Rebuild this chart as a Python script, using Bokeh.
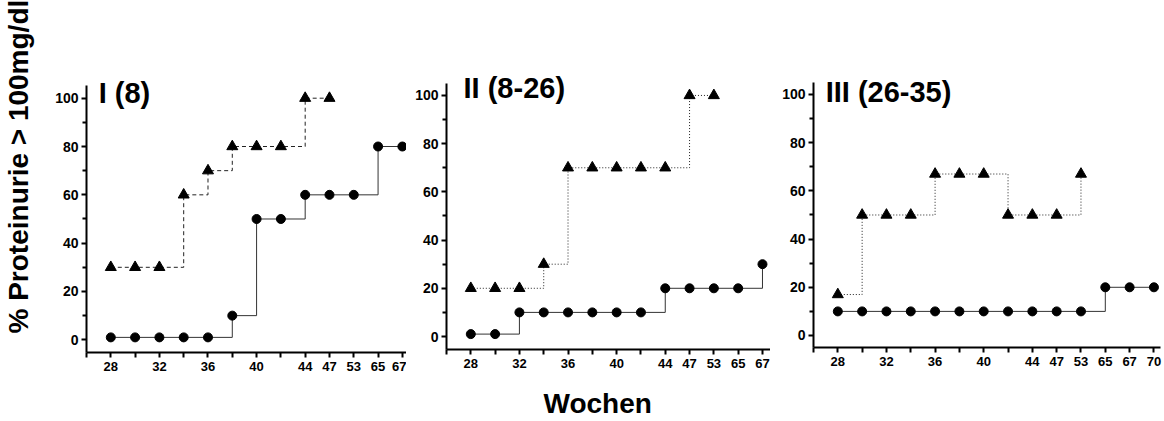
import math

from bokeh.plotting import figure
from bokeh.layouts import row, column
from bokeh.models import Range1d, FixedTicker, Label
from bokeh.embed import file_html
from bokeh.resources import INLINE

FONT = "Liberation Sans"

# Week positions on the (evenly spaced) x axis and the ones that carry a label
weeks = [28, 30, 32, 34, 36, 38, 40, 42, 44, 47, 53, 65, 67, 70]
labelled_weeks = [28, 32, 36, 40, 44, 47, 53, 65, 67, 70]

# Group I (8)
g1_tri_weeks = [28, 30, 32, 34, 36, 38, 40, 42, 44, 47]
g1_tri = [30, 30, 30, 60, 70, 80, 80, 80, 100, 100]
g1_dot_weeks = [28, 30, 32, 34, 36, 38, 40, 42, 44, 47, 53, 65, 67]
g1_dot = [1, 1, 1, 1, 1, 10, 50, 50, 60, 60, 60, 80, 80]

# Group II (8-26)
g2_tri_weeks = [28, 30, 32, 34, 36, 38, 40, 42, 44, 47, 53]
g2_tri = [20, 20, 20, 30, 70, 70, 70, 70, 70, 100, 100]
g2_dot_weeks = [28, 30, 32, 34, 36, 38, 40, 42, 44, 47, 53, 65, 67]
g2_dot = [1, 1, 10, 10, 10, 10, 10, 10, 20, 20, 20, 20, 30]

# Group III (26-35)
g3_tri_weeks = [28, 30, 32, 34, 36, 38, 40, 42, 44, 47, 53]
g3_tri = [17, 50, 50, 50, 67, 67, 67, 50, 50, 50, 67]
g3_dot_weeks = [28, 30, 32, 34, 36, 38, 40, 42, 44, 47, 53, 65, 67, 70]
g3_dot = [10, 10, 10, 10, 10, 10, 10, 10, 10, 10, 10, 20, 20, 20]

y_major = [0, 20, 40, 60, 80, 100]
y_minor = [10, 30, 50, 70, 90]

ROW_H = 380     # height of the row holding the three panels
FRAME_TOP = 60  # frames start higher than the axes so the panel titles fit inside


def pos(ws):
    return [weeks.index(w) for w in ws]


def panel(title, tri_weeks, tri, dot_weeks, dot, tri_dash, width, left, right,
          bottom, x_end, y_start, y_end, axis_top, title_x, title_y):
    p = figure(width=width, height=ROW_H, output_backend="svg", toolbar_location=None,
               x_range=Range1d(-1, x_end), y_range=Range1d(y_start, y_end),
               min_border_left=left, min_border_right=right,
               min_border_top=FRAME_TOP, min_border_bottom=bottom)
    p.frame_align = False
    p.outline_line_color = None
    p.grid.visible = False
    p.background_fill_color = None
    p.border_fill_color = None

    ticks = list(range(-1, len(weeks)))
    overrides = {-1: ""}
    for i, w in enumerate(weeks):
        overrides[i] = str(w) if w in labelled_weeks else ""
    p.xaxis.ticker = FixedTicker(ticks=ticks, minor_ticks=[])
    p.xaxis.major_label_overrides = overrides
    p.yaxis.ticker = FixedTicker(ticks=y_major, minor_ticks=y_minor)
    p.yaxis.bounds = (y_start, axis_top)

    for ax in (p.xaxis, p.yaxis):
        ax.axis_line_width = 2
        ax.axis_line_color = "black"
        ax.major_tick_line_width = 2
        ax.major_tick_line_color = "black"
        ax.major_tick_in = 0
        ax.major_tick_out = 5
        ax.minor_tick_line_width = 2
        ax.minor_tick_line_color = "black"
        ax.minor_tick_in = 0
        ax.minor_tick_out = 4
        ax.major_label_text_font = FONT
        ax.major_label_text_font_style = "bold"
        ax.major_label_text_color = "black"
    p.xaxis.major_label_text_font_size = "13px"
    p.xaxis.major_label_standoff = 4
    p.yaxis.major_label_text_font_size = "14px"
    p.yaxis.major_label_standoff = 3

    tx = pos(tri_weeks)
    dx = pos(dot_weeks)
    p.step(dx, dot, mode="after", line_color="#333333", line_width=1)
    p.step(tx, tri, mode="after", line_color="#222222", line_width=1,
           line_dash=tri_dash)
    p.scatter(dx, dot, marker="circle", size=9, fill_color="black",
              line_color="black")
    p.scatter(tx, tri, marker="triangle", size=11, fill_color="black",
              line_color="black")

    p.add_layout(Label(x=title_x, y=title_y, text=title, text_font=FONT,
                       text_font_style="bold", text_font_size="29px",
                       text_color="black", text_baseline="alphabetic"))
    return p


def text_box(width, height):
    t = figure(width=width, height=height, output_backend="svg", toolbar_location=None,
               x_axis_location=None, y_axis_location=None,
               min_border_left=0, min_border_right=0,
               min_border_top=0, min_border_bottom=0)
    t.frame_align = False
    t.outline_line_color = None
    t.grid.visible = False
    t.background_fill_color = None
    t.border_fill_color = None
    return t


p1 = panel("I (8)", g1_tri_weeks, g1_tri, g1_dot_weeks, g1_dot, "4 3",
           width=366, left=46, right=0, bottom=28, x_end=12.17,
           y_start=-5.26, y_end=115.6, axis_top=105.3,
           title_x=-0.5, title_y=102.0)
p2 = panel("II (8-26)", g2_tri_weeks, g2_tri, g2_dot_weeks, g2_dot, "1 2",
           width=364, left=40, right=0, bottom=31, x_end=12.33,
           y_start=-5.39, y_end=114.5, axis_top=105.0,
           title_x=-0.3, title_y=103.2)
p3 = panel("III (26-35)", g3_tri_weeks, g3_tri, g3_dot_weeks, g3_dot, "1 2",
           width=394, left=43, right=4, bottom=33, x_end=13.27,
           y_start=-4.98, y_end=114.1, axis_top=105.0,
           title_x=-0.5, title_y=101.2)

# Shared y axis title (reads upward) in its own strip on the left
ylab = text_box(40, ROW_H)
ylab.add_layout(Label(x=18, y=47, x_units="screen", y_units="screen",
                      text="% Proteinurie > 100mg/dl", angle=math.pi / 2,
                      text_font=FONT, text_font_style="bold", text_font_size="28px",
                      text_color="black", text_align="left",
                      text_baseline="alphabetic"))

# Shared x axis title in a strip below the panels
xlab = text_box(1164, 421 - ROW_H)
xlab.add_layout(Label(x=543, y=18, x_units="screen", y_units="screen",
                      text="Wochen", text_font=FONT, text_font_style="bold",
                      text_font_size="28px", text_color="black",
                      text_align="left", text_baseline="alphabetic"))

layout = column(row(ylab, p1, p2, p3), xlab)
open("out.html", "w").write(file_html(layout, INLINE))
